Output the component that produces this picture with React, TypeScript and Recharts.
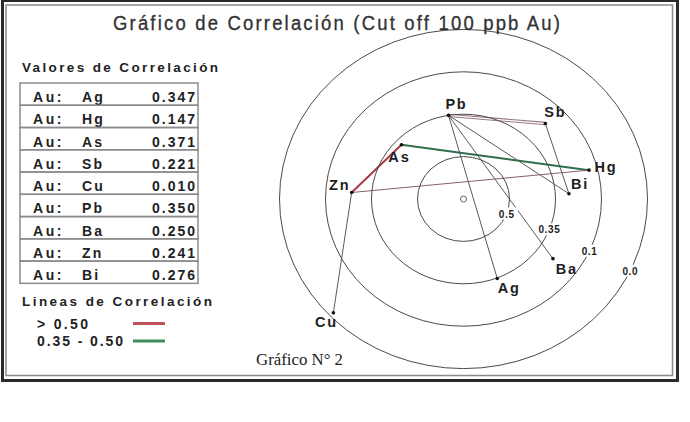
import React from "react";
import { ScatterChart, Scatter, XAxis, YAxis, ReferenceDot, ReferenceLine } from "recharts";

// correlation of each element with Au (cut off 100 ppb)
const elements = ["Ag", "Hg", "As", "Sb", "Cu", "Pb", "Ba", "Zn", "Bi"];
const auValues = [0.347, 0.147, 0.371, 0.221, 0.01, 0.35, 0.25, 0.241, 0.276];
// direction of each element on the plot, degrees counter-clockwise from east
const angles = [-68.6, 14, 136.5, 45, 223.5, 99.4, -35.9, 176.4, 3.1];

// rings of the target plot, innermost first
const ringValues = [0.5, 0.35, 0.1, 0.0];
const ringLabels = ["0.5", "0.35", "0.1", "0.0"];
const ringLabelAngles = [-20, -21, -24, -25];

// element pairs joined by a line
const links = [
  ["Zn", "As", "strong"],
  ["As", "Hg", "medium"],
  ["Pb", "Sb", "pair"],
  ["Sb", "Bi", "weak"],
  ["Pb", "Ag", "weak"],
  ["Pb", "Bi", "weak"],
  ["Pb", "Ba", "weak"],
  ["Zn", "Hg", "weakRed"],
  ["Zn", "Cu", "weak"],
];

const legendLabels = ["> 0.50", "0.35 - 0.50"];

const W = 690;
const H = 422;
const CX = 463.5;
const CY = 199;
const UX = 46; // px per ring, horizontal
const UY = 42.4; // px per ring, vertical (scan is a bit squashed)

// piecewise scale: the rings are evenly spaced, 1.0 sits in the middle
const stops = [1, ...ringValues];
const ringRadius = (c: number) => {
  for (let i = 0; i < stops.length - 1; i++) {
    if (c <= stops[i] && c >= stops[i + 1]) {
      return i + (stops[i] - c) / (stops[i] - stops[i + 1]);
    }
  }
  return stops.length - 1;
};

const polar = (r: number, deg: number) => {
  const a = (deg * Math.PI) / 180;
  return { x: r * Math.cos(a), y: r * Math.sin(a) };
};

const labelOffsets: Record<string, [number, number]> = {
  Pb: [7, -11],
  Sb: [9, -12],
  As: [-3, 12],
  Hg: [16, -3],
  Bi: [10, -10],
  Zn: [-13, -8],
  Ba: [13, 10],
  Ag: [11, 10],
  Cu: [-8, 9],
};

const linkStyle: Record<string, { stroke: string; width: number }> = {
  strong: { stroke: "#a83a4c", width: 2 },
  medium: { stroke: "#2f6f4e", width: 2 },
  weak: { stroke: "#5a5a5a", width: 1 },
  weakRed: { stroke: "#8a6068", width: 1 },
};

const SANS = "'Liberation Sans', Arial, sans-serif";

export default function App() {
  const points = elements.map((el, i) => ({
    name: el,
    value: auValues[i],
    ...polar(ringRadius(auValues[i]), angles[i]),
  }));
  const byName: Record<string, { x: number; y: number }> = {};
  points.forEach((p) => (byName[p.name] = p));

  const rowTop = 83;
  const rowH = 22.26;

  return (
    <div style={{ position: "absolute", left: 0, top: 0, width: W, height: H, background: "#fff" }}>
      <ScatterChart width={W} height={H} margin={{ top: 0, right: 0, bottom: 0, left: 0 }}>
        <XAxis type="number" dataKey="x" hide domain={[-CX / UX, (W - CX) / UX]} allowDataOverflow />
        <YAxis type="number" dataKey="y" hide domain={[-(H - CY) / UY, CY / UY]} allowDataOverflow />
        {ringValues.map((v) => (
          <ReferenceDot
            key={"ring" + v}
            x={0}
            y={0}
            r={1}
            ifOverflow="visible"
            shape={(p: any) => (
              <ellipse
                cx={p.cx}
                cy={p.cy}
                rx={ringRadius(v) * UX}
                ry={ringRadius(v) * UY}
                fill="none"
                stroke="#4a4a4a"
                strokeWidth={1}
              />
            )}
          />
        ))}
        {ringLabels.map((lab, i) => {
          const pos = polar(ringRadius(ringValues[i]), ringLabelAngles[i]);
          return (
            <ReferenceDot
              key={"rl" + lab}
              x={pos.x}
              y={pos.y}
              r={1}
              ifOverflow="visible"
              shape={(p: any) => (
                <g>
                  <rect x={p.cx - 11} y={p.cy - 6} width={22} height={12} fill="#fff" />
                  <text
                    x={p.cx}
                    y={p.cy + 4}
                    textAnchor="middle"
                    fontFamily={SANS}
                    fontWeight="bold"
                    fontSize={10}
                    letterSpacing={0.6}
                    fill="#222"
                  >
                    {lab}
                  </text>
                </g>
              )}
            />
          );
        })}
        {links.map(([a, b, kind]) => {
          const seg = [
            { x: byName[a].x, y: byName[a].y },
            { x: byName[b].x, y: byName[b].y },
          ];
          if (kind === "pair") {
            return (
              <React.Fragment key={a + b}>
                <ReferenceLine segment={seg} stroke="#9a7a80" strokeWidth={3.4} ifOverflow="visible" />
                <ReferenceLine segment={seg} stroke="#fff" strokeWidth={1.3} ifOverflow="visible" />
              </React.Fragment>
            );
          }
          const s = linkStyle[kind];
          return <ReferenceLine key={a + b} segment={seg} stroke={s.stroke} strokeWidth={s.width} ifOverflow="visible" />;
        })}
        <ReferenceDot x={0} y={0} r={3} fill="#fff" stroke="#666" strokeWidth={1} ifOverflow="visible" />
        <Scatter
          data={points}
          isAnimationActive={false}
          shape={(p: any) => {
            const [dx, dy] = labelOffsets[p.payload.name];
            return (
              <g>
                <circle cx={p.cx} cy={p.cy} r={1.8} fill="#111" />
                <text
                  x={p.cx + dx + 1}
                  y={p.cy + dy + 5}
                  textAnchor="middle"
                  fontFamily={SANS}
                  fontWeight="bold"
                  fontSize={14.5}
                  letterSpacing={1.8}
                  fill="#1e1e1e"
                >
                  {p.payload.name}
                </text>
              </g>
            );
          }}
        />
      </ScatterChart>

      <svg width={W} height={H} style={{ position: "absolute", left: 0, top: 0, pointerEvents: "none" }}>
        <rect x={2.5} y={0.5} width={675} height={380} fill="none" stroke="#2a2a2a" strokeWidth={3} />
        <rect x={6} y={5} width={666.5} height={370.5} fill="none" stroke="#8a8a8a" strokeWidth={1.5} />

        {/* narrow face: squeeze a normal sans and open up the spacing */}
        <text
          transform="translate(113 29.5) scale(0.88 1)"
          x={0}
          y={0}
          fontFamily={SANS}
          fontSize={21}
          fill="#333"
          stroke="#333"
          strokeWidth={0.35}
          textLength={447 / 0.88}
          lengthAdjust="spacing"
        >
          Gráfico de Correlación (Cut off 100 ppb Au)
        </text>

        <text x={22} y={72} fontFamily={SANS} fontWeight="bold" fontSize={13.5} fill="#222" textLength={196} lengthAdjust="spacing">
          Valores de Correlación
        </text>

        {elements.map((el, i) => {
          const y = rowTop + i * rowH;
          return (
            <g key={"row" + el}>
              <rect x={20} y={y} width={178} height={rowH} fill="none" stroke="#8c8c8c" strokeWidth={1.5} />
              <text x={33} y={y + 19} fontFamily={SANS} fontWeight="bold" fontSize={14} fill="#222" letterSpacing={2.6}>
                Au:
              </text>
              <text x={82} y={y + 19} fontFamily={SANS} fontWeight="bold" fontSize={14} fill="#222" letterSpacing={2.2}>
                {el}
              </text>
              <text x={195} y={y + 19} textAnchor="end" fontFamily={SANS} fontWeight="bold" fontSize={14} fill="#222" textLength={43} lengthAdjust="spacing">
                {auValues[i].toFixed(3)}
              </text>
            </g>
          );
        })}

        <text x={22} y={306} fontFamily={SANS} fontWeight="bold" fontSize={13.5} fill="#222" textLength={190} lengthAdjust="spacing">
          Lineas de Correlación
        </text>
        <text x={37} y={329} fontFamily={SANS} fontWeight="bold" fontSize={14} fill="#222" textLength={51} lengthAdjust="spacing">
          {legendLabels[0]}
        </text>
        <line x1={133} x2={165} y1={323.5} y2={323.5} stroke="#c0505c" strokeWidth={3} />
        <text x={37} y={346} fontFamily={SANS} fontWeight="bold" fontSize={14} fill="#222" textLength={86} lengthAdjust="spacing">
          {legendLabels[1]}
        </text>
        <line x1={133} x2={165} y1={341} y2={341} stroke="#3f8a5e" strokeWidth={3} />

        <text x={256} y={365} fontFamily="'Liberation Serif', 'Times New Roman', serif" fontSize={16} fill="#222" textLength={87} lengthAdjust="spacingAndGlyphs">
          Gráfico N° 2
        </text>
      </svg>
    </div>
  );
}
